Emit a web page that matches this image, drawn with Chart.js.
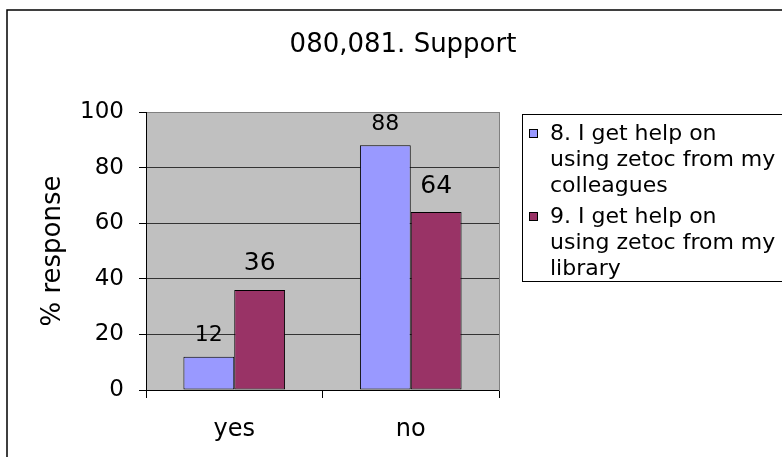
<!DOCTYPE html>
<html>
<head>
<meta charset="utf-8">
<script src="https://cdn.jsdelivr.net/npm/chart.js@4.4.1/dist/chart.umd.min.js"></script>
<style>
  html, body { margin: 0; padding: 0; background: #fff; }
  #wrap { width: 782px; height: 457px; position: relative; }
</style>
</head>
<body>
<div id="wrap"><canvas id="c" width="782" height="457"></canvas></div>
<script>
// ---- data ----
const chartTitle = '080,081. Support';
const yAxisTitle = '% response';
const categories = ['yes', 'no'];
const colleaguesValues = [12, 88];
const libraryValues = [36, 64];
const seriesNames = [
  ['8. I get help on', 'using zetoc from my', 'colleagues'],
  ['9. I get help on', 'using zetoc from my', 'library']
];
const yTickValues = [0, 20, 40, 60, 80, 100];

// ---- styles ----
const FONT = "Verdana, 'DejaVu Sans', sans-serif";
const seriesColors = ['#9999FF', '#993366'];
const labelFontSizes = [22, 25];
const labelOffsets = [21, 26];

const backgroundPlugin = {
  id: 'bg',
  beforeDraw(chart) {
    const { ctx, chartArea: a } = chart;
    ctx.save();
    ctx.fillStyle = '#fff';
    ctx.fillRect(0, 0, chart.width, chart.height);
    // outer chart border (left & top visible)
    ctx.strokeStyle = '#000';
    ctx.lineWidth = 1.5;
    ctx.beginPath();
    ctx.moveTo(7, chart.height + 5);
    ctx.lineTo(7, 10);
    ctx.lineTo(chart.width + 5, 10);
    ctx.stroke();
    // plot area
    ctx.fillStyle = '#C0C0C0';
    ctx.fillRect(a.left, a.top, a.right - a.left, a.bottom - a.top);
    ctx.restore();
  }
};

const valueLabelPlugin = {
  id: 'valueLabels',
  afterDatasetsDraw(chart) {
    const { ctx } = chart;
    ctx.save();
    ctx.fillStyle = '#000';
    ctx.textAlign = 'center';
    ctx.textBaseline = 'middle';
    chart.data.datasets.forEach((ds, i) => {
      const meta = chart.getDatasetMeta(i);
      ctx.font = labelFontSizes[i] + 'px ' + FONT;
      meta.data.forEach((bar, j) => {
        ctx.fillText(String(ds.data[j]), bar.x, bar.y - labelOffsets[i]);
      });
    });
    ctx.restore();
  }
};

const legendBoxPlugin = {
  id: 'legendBox',
  afterDraw(chart) {
    const { ctx } = chart;
    const left = 522.5, top = 114.5, bottom = 281.5;
    const lineH = 26, itemGap = 5, fontSize = 22;
    ctx.save();
    ctx.strokeStyle = '#000';
    ctx.lineWidth = 1;
    ctx.strokeRect(left, top, chart.width + 20 - left, bottom - top);
    ctx.font = fontSize + 'px ' + FONT;
    ctx.textBaseline = 'middle';
    ctx.textAlign = 'left';
    let y = top + 20;
    chart.data.datasets.forEach((ds, i) => {
      const lines = seriesNames[i];
      // marker
      const my = Math.round(y) - 2;
      ctx.fillStyle = seriesColors[i];
      ctx.fillRect(529, my - 4, 9, 9);
      ctx.strokeStyle = '#000';
      ctx.strokeRect(529.5, my - 3.5, 8, 8);
      ctx.fillStyle = '#000';
      lines.forEach((ln, k) => {
        ctx.fillText(ln, 550, y + k * lineH);
      });
      y += lines.length * lineH + itemGap;
    });
    ctx.restore();
  }
};

new Chart(document.getElementById('c'), {
  type: 'bar',
  data: {
    labels: categories,
    datasets: [
      {
        label: seriesNames[0].join(' '),
        data: colleaguesValues,
        backgroundColor: seriesColors[0],
        borderColor: '#000',
        borderWidth: 1,
        borderSkipped: false,
        categoryPercentage: 0.576,
        barPercentage: 1.0
      },
      {
        label: seriesNames[1].join(' '),
        data: libraryValues,
        backgroundColor: seriesColors[1],
        borderColor: '#000',
        borderWidth: 1,
        borderSkipped: false,
        categoryPercentage: 0.576,
        barPercentage: 1.0
      }
    ]
  },
  options: {
    responsive: false,
    animation: false,
    devicePixelRatio: 1,
    layout: { padding: { left: 24, right: 0, top: 0, bottom: 0 } },
    plugins: {
      legend: { display: false },
      tooltip: { enabled: false },
      title: {
        display: true,
        text: chartTitle,
        color: '#000',
        font: { family: FONT, size: 26, weight: 'normal' },
        padding: { top: 29.4, bottom: 51.4 }
      }
    },
    scales: {
      x: {
        grid: {
          display: true,
          drawOnChartArea: false,
          drawTicks: true,
          tickLength: 8,
          color: '#000',
          offset: true
        },
        border: { display: true, color: '#000', width: 1 },
        ticks: {
          color: '#000',
          font: { family: FONT, size: 24 },
          padding: 17,
          maxRotation: 0
        },
        afterFit(scale) { scale.height = 67; }
      },
      y: {
        min: 0,
        max: 100,
        afterBuildTicks(scale) { scale.ticks = yTickValues.map(v => ({ value: v })); },
        grid: {
          display: true,
          drawOnChartArea: true,
          drawTicks: true,
          tickLength: 7,
          color: (c) => (c.tick && c.tick.value === 0) ? '#000' : (c.tick && c.tick.value === 100 ? '#808080' : '#333'),
          tickColor: '#000'
        },
        border: { display: true, color: '#000', width: 1 },
        ticks: {
          color: '#000',
          font: { family: FONT, size: 23 },
          padding: 15
        },
        title: {
          display: true,
          text: yAxisTitle,
          color: '#000',
          font: { family: FONT, size: 26, weight: 'normal' },
          padding: { top: 14, bottom: 0 }
        },
        afterFit(scale) { scale.width = 122; }
      },
      yRight: {
        type: 'linear',
        position: 'right',
        display: true,
        grid: { display: false, drawTicks: false },
        ticks: { display: false },
        border: { display: true, color: '#808080', width: 1 },
        afterFit(scale) { scale.width = 283; }
      }
    }
  },
  plugins: [backgroundPlugin, valueLabelPlugin, legendBoxPlugin]
});
</script>
</body>
</html>
